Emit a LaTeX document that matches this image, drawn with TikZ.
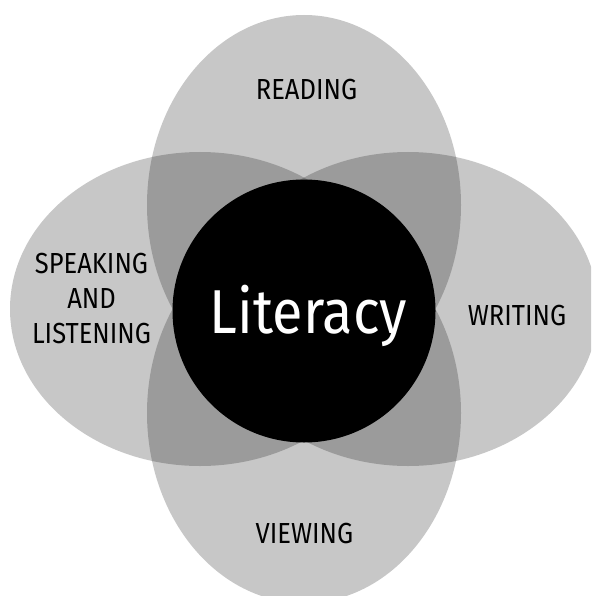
\documentclass[tikz,border=0pt]{standalone}
\usepackage{fontspec}
\setmainfont{Fira Sans}
\newfontfamily\lblfont[FakeStretch=0.88]{Fira Sans}
\newfontfamily\litfont[FakeStretch=0.9]{Fira Sans}
\begin{document}
\begin{tikzpicture}
[x=1pt, y=-1pt, line join=round,
 petal/.style={fill=black, fill opacity=.22},
 lbl/.style={anchor=base, inner sep=0pt, font=\lblfont\fontsize{29}{35}\selectfont}]
\useasboundingbox (0,0) rectangle (591,596);
\clip (0,0) rectangle (591,596);
% four petals
\foreach \cx/\cy/\rx/\ry in {304/205/157/190, 304/413/157/190, 200/309/190/157, 408/309/190/157}
\fill[petal] (\cx,\cy) ellipse [x radius=\rx, y radius=\ry];
\fill (304,311) circle (131.5);
\node[anchor=base, inner sep=0pt, text=white, font=\litfont\fontsize{62}{70}\selectfont] (lit) at (308.5,333) {Literacy};
\node[lbl] (read) at (306.5,100) {READING};
\node[lbl] (write) at (517,325) {WRITING};
\node[lbl] (view) at (304.5,543) {VIEWING};
\node[lbl, align=center] (speak) at (91.5,343) {SPEAKING\\AND\\LISTENING};
\end{tikzpicture}
\end{document}
